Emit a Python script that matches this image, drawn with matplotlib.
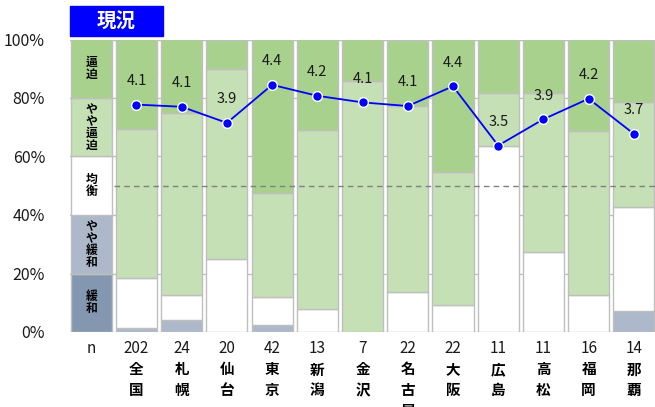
import matplotlib
matplotlib.use('Agg')
import matplotlib.pyplot as plt
import matplotlib.transforms as mtransforms
from matplotlib.patches import Rectangle

plt.rcParams['font.family'] = ['Noto Sans CJK JP', 'DejaVu Sans']

# Regions and sample sizes
cities = ["全国", "札幌", "仙台", "東京", "新潟", "金沢", "名古屋", "大阪", "広島", "高松", "福岡", "那覇"]
n_counts = [202, 24, 20, 42, 13, 7, 22, 22, 11, 11, 16, 14]

# Share of answers per category (%)
kanwa = [0, 0, 0, 0, 0, 0, 0, 0, 0, 0, 0, 0]
yaya_kanwa = [1.5, 4.2, 0, 2.4, 0, 0, 0, 0, 0, 0, 0, 7.1]
kinko = [16.8, 8.3, 25.0, 9.5, 7.7, 0, 13.6, 9.1, 63.6, 27.3, 12.5, 35.7]
yaya_hippaku = [51.0, 62.5, 65.0, 35.7, 61.5, 85.7, 63.6, 45.5, 18.2, 54.5, 56.3, 35.7]
hippaku = [30.7, 25.0, 10.0, 52.4, 30.8, 14.3, 22.7, 45.5, 18.2, 18.2, 31.3, 21.4]

# Mean score (1=緩和 ... 5=逼迫)
mean_score = [4.11, 4.08, 3.86, 4.38, 4.23, 4.14, 4.09, 4.36, 3.55, 3.91, 4.19, 3.71]

category_labels = ["緩\n和", "や\nや\n緩\n和", "均\n衡", "や\nや\n逼\n迫", "逼\n迫"]
category_colors = ["#8497B0", "#ADB9CA", "#FFFFFF", "#C5E0B4", "#A9D18E"]
legend_share = [20, 20, 20, 20, 20]

fig = plt.figure(figsize=(6.55, 4.07), dpi=100)
ax = fig.add_axes([70 / 655, 1 - 332 / 407, 586 / 655, 292.5 / 407])

for spine in ax.spines.values():
    spine.set_visible(False)

bar_w = 0.91
edge = "#BFBFBF"

# Legend column on the left
bottom = 0
for share, color, label in zip(legend_share, category_colors, category_labels):
    ax.bar(0, share, bottom=bottom, width=bar_w, color=color, edgecolor=edge,
           linewidth=1, zorder=2)
    ax.text(0, bottom + share / 2, label, ha="center", va="center", fontsize=8.5,
            fontweight="bold", linespacing=0.9, zorder=3)
    bottom += share

# Stacked bars per city
x = list(range(1, len(cities) + 1))
series = [kanwa, yaya_kanwa, kinko, yaya_hippaku, hippaku]
bottoms = [0] * len(cities)
for values, color in zip(series, category_colors):
    ax.bar(x, values, bottom=bottoms, width=bar_w, color=color, edgecolor=edge,
           linewidth=1, zorder=2)
    bottoms = [b + v for b, v in zip(bottoms, values)]

ax.hlines(50, 0.5, len(cities) + 0.6, colors="#808080", linestyles=(0, (4, 3)),
          linewidth=1, zorder=4)

ax.set_xlim(-0.47, len(cities) + 0.49)
ax.set_ylim(0, 100)
ax.set_yticks([0, 20, 40, 60, 80, 100])
ax.set_yticklabels([f"{v}%" for v in [0, 20, 40, 60, 80, 100]], fontsize=11.5,
                   color="#1a1a1a")
ax.tick_params(axis="y", length=0, pad=18)
ax.set_xticks([])
ax.grid(axis="y", color=edge, linewidth=1)
ax.set_axisbelow(True)

# x labels: n and city names
trans = mtransforms.blended_transform_factory(ax.transData, ax.transAxes)
ax.text(0, -0.055, "n", transform=trans, ha="center", va="center", fontsize=11,
        color="#1a1a1a")
for xi, n, city in zip(x, n_counts, cities):
    ax.text(xi, -0.055, str(n), transform=trans, ha="center", va="center",
            fontsize=11, color="#1a1a1a")
    for k, ch in enumerate(city):
        ax.text(xi, -0.128 - 0.071 * k, ch, transform=trans, ha="center",
                va="center", fontsize=10.5, fontweight="bold", clip_on=False)

# Mean score line on a hidden secondary scale
ax2 = ax.twinx()
ax2.set_ylim(1, 5)
ax2.set_axis_off()
ax2.plot(x, mean_score, color="#0000FF", linewidth=1.3, marker="o",
         markersize=7, markerfacecolor="#0000FF", markeredgecolor="white",
         markeredgewidth=1, zorder=5)
for xi, v in zip(x, mean_score):
    ax2.annotate(f"{v:.1f}", (xi, v), xytext=(0, 17), textcoords="offset points",
                 ha="center", va="center", fontsize=10.5, color="#1a1a1a")
ax2.set_xlim(ax.get_xlim())

# Title box
fig.patches.append(Rectangle((70 / 655, 1 - 36 / 407), 93 / 655, 30 / 407,
                             transform=fig.transFigure, color="#0000FF"))
fig.text(116 / 655, 1 - 21 / 407, "現況", color="white", fontsize=14,
         fontweight="bold", ha="center", va="center")

fig.savefig("out.png", dpi=100)
